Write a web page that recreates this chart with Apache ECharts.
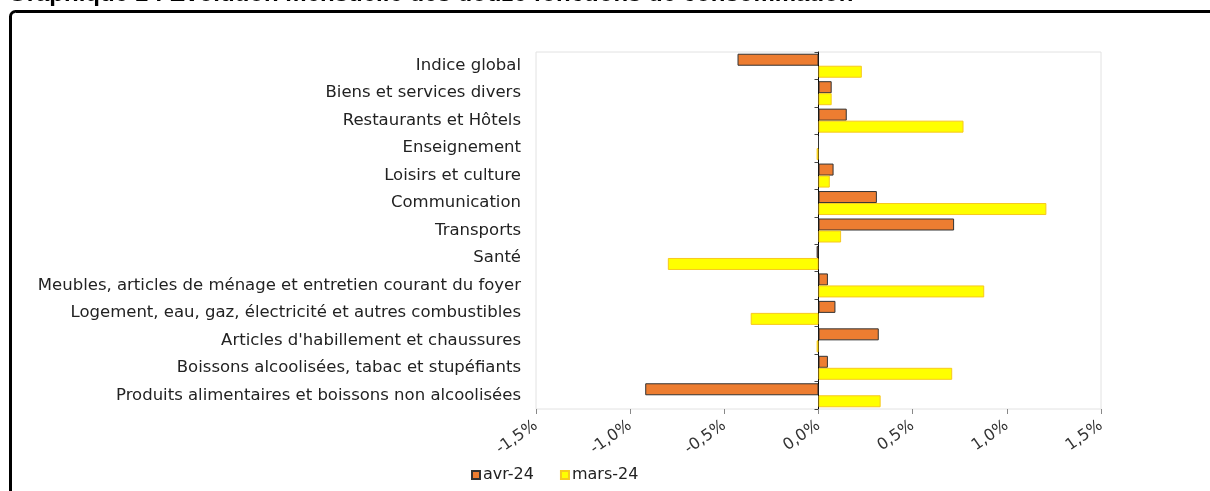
<!DOCTYPE html>
<html>
<head>
<meta charset="utf-8">
<script src="https://cdn.jsdelivr.net/npm/echarts@6/dist/echarts.min.js"></script>
<style>
  html, body { margin: 0; padding: 0; background: #fff; }
  #chart { width: 1210px; height: 491px; }
</style>
</head>
<body>
<div id="chart"></div>
<script>
const categories = [
  'Indice global',
  'Biens et services divers',
  'Restaurants et Hôtels',
  'Enseignement',
  'Loisirs et culture',
  'Communication',
  'Transports',
  'Santé',
  'Meubles, articles de ménage et entretien courant du foyer',
  'Logement, eau, gaz, électricité et autres combustibles',
  "Articles d'habillement et chaussures",
  'Boissons alcoolisées, tabac et stupéfiants',
  'Produits alimentaires et boissons non alcoolisées'
];
const avr24 = [-0.43, 0.07, 0.15, 0, 0.08, 0.31, 0.72, -0.01, 0.05, 0.09, 0.32, 0.05, -0.92];
const mars24 = [0.23, 0.07, 0.77, -0.01, 0.06, 1.21, 0.12, -0.80, 0.88, -0.36, -0.01, 0.71, 0.33];
const xTicks = [-1.5, 1.5, 0.5]; // min, max, step

const wideFont = '"DejaVu Sans", Verdana, sans-serif';
const titleFont = '"Liberation Sans", Arial, sans-serif';

function pct(value) {
  return value.toFixed(1).replace('.', ',').replace('-0,0', '0,0') + '%';
}

const chart = echarts.init(document.getElementById('chart'));

const option = {
  animation: false,
  textStyle: { fontFamily: wideFont },
  grid: {
    left: 536,
    right: 109,
    top: 52,
    bottom: 82,
    show: true,
    borderColor: '#e2e2e2',
    borderWidth: 1,
    backgroundColor: '#fff'
  },
  legend: {
    left: 466,
    top: 462,
    itemWidth: 8,
    itemHeight: 8,
    itemGap: 26,
    icon: 'rect',
    textStyle: { fontSize: 16, color: '#222', padding: [0, 0, 0, -2] },
    data: ['avr-24', 'mars-24']
  },
  xAxis: {
    type: 'value',
    min: xTicks[0],
    max: xTicks[1],
    interval: xTicks[2],
    splitLine: { show: false },
    axisLine: { lineStyle: { color: '#888', width: 1 } },
    axisTick: { show: true, length: 5, lineStyle: { color: '#888' } },
    axisLabel: {
      rotate: 35,
      margin: 15,
      fontSize: 16,
      color: '#333',
      formatter: pct
    }
  },
  yAxis: [
    {
      type: 'category',
      inverse: true,
      data: categories,
      axisLine: { show: false, onZero: false },
      axisTick: { show: false },
      axisLabel: { margin: 15, fontSize: 16.5, color: '#222' }
    },
    {
      type: 'category',
      inverse: true,
      position: 'left',
      data: categories,
      axisLine: { show: true, onZero: true, lineStyle: { color: '#000', width: 1 } },
      axisTick: { show: true, length: 4, lineStyle: { color: '#444' } },
      axisLabel: { show: false }
    }
  ],
  series: [
    {
      name: 'avr-24',
      type: 'bar',
      yAxisIndex: 0,
      data: avr24,
      barWidth: 12,
      barGap: '0%',
      itemStyle: { color: '#ED7D31', borderColor: '#333', borderWidth: 1 }
    },
    {
      name: 'mars-24',
      type: 'bar',
      yAxisIndex: 0,
      data: mars24,
      barWidth: 12,
      barGap: '0%',
      itemStyle: { color: '#FFFF00', borderColor: '#F7C81E', borderWidth: 1 }
    }
  ],
  graphic: [
    {
      type: 'text',
      left: 8,
      top: -18,
      style: {
        text: 'Graphique 1 : Évolution mensuelle des douze fonctions de consommation',
        font: 'bold 24px ' + titleFont,
        fill: '#000'
      }
    },
    {
      type: 'rect',
      shape: { x: 10.5, y: 11.5, width: 1400, height: 700, r: 5 },
      style: { fill: 'none', stroke: '#000', lineWidth: 3 },
      z: 100
    }
  ]
};

chart.setOption(option);
</script>
</body>
</html>
